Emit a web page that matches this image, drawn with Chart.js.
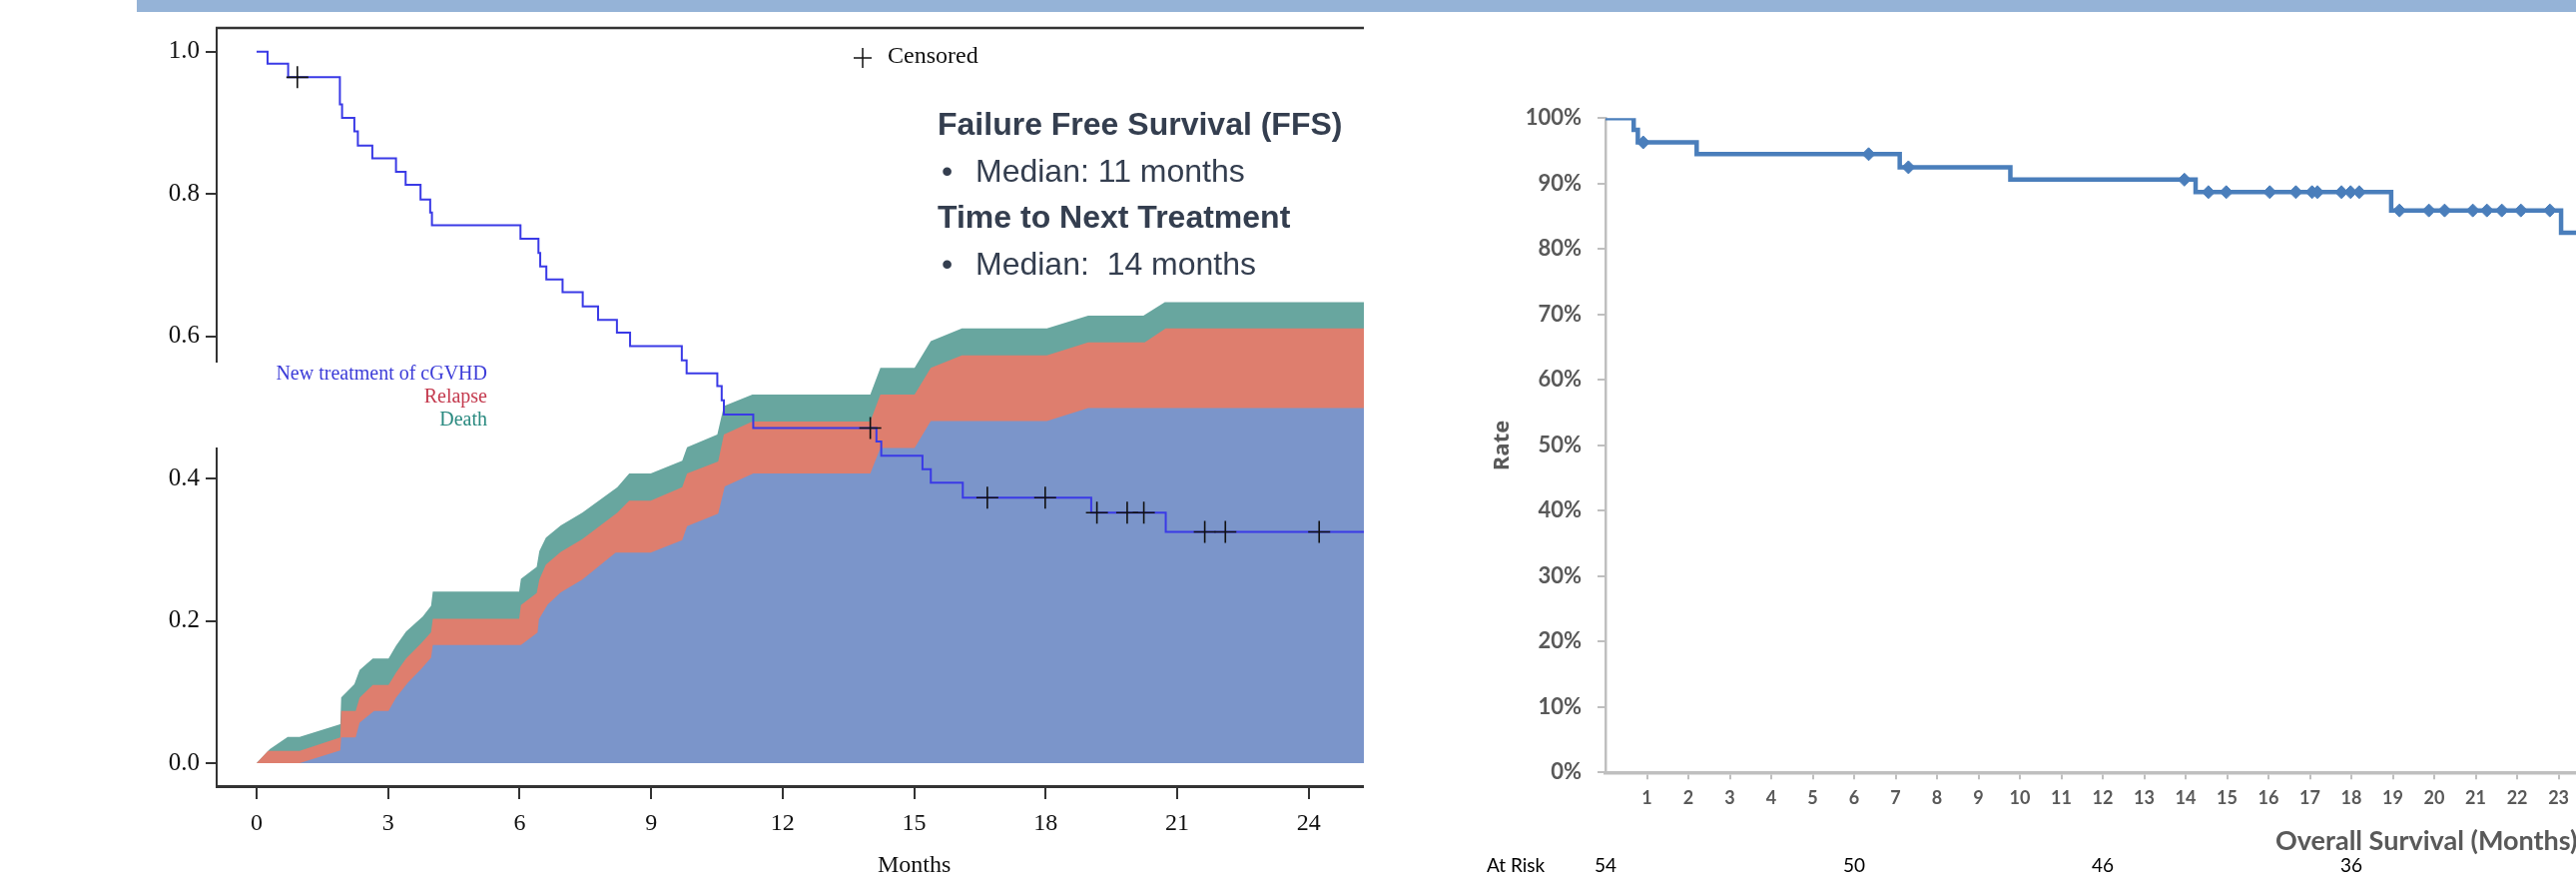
<!DOCTYPE html>
<html>
<head>
<meta charset="utf-8">
<script src="https://cdn.jsdelivr.net/npm/chart.js@4.4.1/dist/chart.umd.min.js"></script>
<style>
  body { margin: 0; background: #fff; width: 2580px; height: 891px; overflow: hidden; position: relative; }
  #banner { position: absolute; left: 137px; top: 0; width: 2443px; height: 12px; background: #95b3d7; z-index: 2; }
  #left { position: absolute; left: 0; top: 0; }
  #right { position: absolute; left: 1400px; top: 0; }
</style>
</head>
<body>
<div id="banner"></div>
<canvas id="left" width="1366" height="891"></canvas>
<canvas id="right" width="1180" height="891"></canvas>
<script>
// ---- left panel: FFS step curve + stacked cumulative incidence ----
const ffsMonths = [0, 0.25, 0.72, 1.9, 1.95, 2.23, 2.31, 2.64, 3.18, 3.4, 3.74, 3.96, 4.0, 6.02, 6.43, 6.47, 6.61, 6.98, 7.44, 7.79, 8.22, 8.52, 9.7, 9.81, 10.51, 10.61, 10.66, 11.33, 14.14, 14.25, 15.19, 15.38, 16.11, 19.04, 20.74, 25.3];
const ffsValues = [1.0, 0.983, 0.964, 0.926, 0.907, 0.888, 0.868, 0.85, 0.831, 0.813, 0.792, 0.774, 0.756, 0.737, 0.717, 0.698, 0.68, 0.662, 0.642, 0.623, 0.605, 0.586, 0.566, 0.548, 0.53, 0.51, 0.49, 0.471, 0.452, 0.432, 0.413, 0.394, 0.373, 0.352, 0.325, 0.325];

const censorMonths = [0.93, 14.0, 16.67, 17.99, 19.17, 19.86, 20.24, 21.63, 22.1, 24.24];
const censorValues = [0.964, 0.471, 0.373, 0.373, 0.352, 0.352, 0.352, 0.325, 0.325, 0.325];

// cumulative tops of the stacked areas
const cgvhdMonths = [0.98, 1.91, 1.93, 2.26, 2.35, 2.68, 3.01, 3.18, 3.45, 3.75, 3.98, 4.02, 6.03, 6.41, 6.44, 6.64, 6.94, 7.43, 8.19, 8.99, 9.71, 9.82, 10.53, 10.68, 11.33, 14.0, 14.23, 15.01, 15.38, 18.03, 18.97, 25.3];
const cgvhdValues = [0, 0.018, 0.036, 0.036, 0.057, 0.0735, 0.0735, 0.092, 0.113, 0.132, 0.148, 0.166, 0.166, 0.1835, 0.202, 0.223, 0.24, 0.258, 0.296, 0.296, 0.3135, 0.333, 0.3505, 0.389, 0.407, 0.407, 0.443, 0.443, 0.481, 0.481, 0.499, 0.499];

const relapseMonths = [0, 0.26, 0.98, 1.91, 1.93, 2.26, 2.35, 2.65, 3.01, 3.18, 3.41, 3.75, 3.98, 4.02, 5.99, 6.03, 6.39, 6.45, 6.6, 6.94, 7.43, 8.23, 8.5, 8.99, 9.71, 9.82, 10.53, 10.66, 11.31, 14.0, 14.23, 15.01, 15.38, 16.09, 18.03, 18.97, 20.26, 20.74, 25.3];
const relapseValues = [0, 0.0173, 0.0173, 0.036, 0.0735, 0.0735, 0.092, 0.11, 0.11, 0.127, 0.147, 0.168, 0.184, 0.203, 0.203, 0.222, 0.239, 0.258, 0.279, 0.297, 0.315, 0.352, 0.369, 0.369, 0.388, 0.407, 0.424, 0.462, 0.48, 0.48, 0.518, 0.518, 0.5555, 0.573, 0.573, 0.5915, 0.5915, 0.611, 0.611];

const deathMonths = [0, 0.3, 0.71, 0.98, 1.91, 1.93, 2.23, 2.35, 2.65, 3.01, 3.18, 3.41, 3.79, 3.98, 4.02, 5.99, 6.03, 6.39, 6.45, 6.6, 6.94, 7.43, 8.23, 8.5, 8.99, 9.71, 9.82, 10.51, 10.66, 11.31, 14.0, 14.23, 15.01, 15.38, 16.09, 18.03, 18.97, 20.23, 20.72, 25.3];
const deathValues = [0, 0.0197, 0.0369, 0.0369, 0.0548, 0.0922, 0.111, 0.131, 0.147, 0.147, 0.165, 0.185, 0.206, 0.221, 0.241, 0.241, 0.259, 0.276, 0.298, 0.317, 0.334, 0.352, 0.388, 0.407, 0.407, 0.425, 0.444, 0.462, 0.502, 0.518, 0.518, 0.5555, 0.5555, 0.593, 0.611, 0.611, 0.629, 0.629, 0.648, 0.648];

const leftXTicks = [0, 3, 6, 9, 12, 15, 18, 21, 24];
const leftYTicks = [0, 0.2, 0.4, 0.6, 0.8, 1.0];
const legendNames = ["New treatment of cGVHD", "Relapse", "Death"];
const legendColors = ["#3c3cd8", "#c43a4e", "#2a8a80"];
const infoLines = [
  { text: "Failure Free Survival (FFS)", bold: true, y: 135 },
  { text: "Median: 11 months", bold: false, y: 182 },
  { text: "Time to Next Treatment", bold: true, y: 228 },
  { text: "Median:  14 months", bold: false, y: 275 }
];

// ---- right panel: overall survival ----
const osMonths = [0, 0.68, 0.78, 2.2, 7.1, 9.77, 14.24, 18.96, 23.06, 23.5];
const osRate = [100, 98.2, 96.3, 94.5, 92.5, 90.6, 88.7, 85.9, 82.5, 82.5];
const osCensorMonths = [0.91, 6.35, 7.31, 13.97, 14.55, 14.98, 16.03, 16.66, 17.05, 17.18, 17.76, 17.98, 18.19, 19.16, 19.87, 20.25, 20.93, 21.27, 21.63, 22.09, 22.79];
const osCensorRate = [96.3, 94.5, 92.5, 90.6, 88.7, 88.7, 88.7, 88.7, 88.7, 88.7, 88.7, 88.7, 88.7, 85.9, 85.9, 85.9, 85.9, 85.9, 85.9, 85.9, 85.9];
const osXTicks = [1, 2, 3, 4, 5, 6, 7, 8, 9, 10, 11, 12, 13, 14, 15, 16, 17, 18, 19, 20, 21, 22, 23];
const osYTicks = [0, 10, 20, 30, 40, 50, 60, 70, 80, 90, 100];
const atRiskMonths = [0, 6, 12, 18];
const atRiskCounts = [54, 50, 46, 36];

function pts(xs, ys) {
  return xs.map((x, i) => ({ x: x, y: ys[i] }));
}

// no extra label padding: plot edges are fixed
function noPad(s) {
  s.paddingLeft = 0; s.paddingRight = 0; s.paddingTop = 0; s.paddingBottom = 0;
}

const leftDecor = {
  id: "leftDecor",
  afterDraw(chart) {
    const ctx = chart.ctx;
    const a = chart.chartArea;
    const xs = chart.scales.x;
    ctx.save();
    // top frame
    ctx.strokeStyle = "#333";
    ctx.lineWidth = 2.5;
    ctx.beginPath();
    ctx.moveTo(a.left - 1, a.top);
    ctx.lineTo(a.right, a.top);
    ctx.stroke();

    // legend box sits over the axis
    ctx.fillStyle = "#fff";
    ctx.fillRect(205, 363, 292, 85);
    ctx.font = "20px 'Liberation Serif'";
    ctx.textAlign = "right";
    ctx.textBaseline = "middle";
    legendNames.forEach((n, i) => {
      ctx.fillStyle = legendColors[i];
      ctx.fillText(n, 488, 375 + i * 23);
    });

    // censored key
    ctx.strokeStyle = "#111";
    ctx.lineWidth = 1.5;
    ctx.beginPath();
    ctx.moveTo(855, 58); ctx.lineTo(873, 58);
    ctx.moveTo(864, 48); ctx.lineTo(864, 68);
    ctx.stroke();
    ctx.fillStyle = "#111";
    ctx.textAlign = "left";
    ctx.font = "24px 'Liberation Serif'";
    ctx.fillText("Censored", 889, 57);

    // x title
    ctx.textAlign = "center";
    ctx.fillText("Months", xs.getPixelForValue(15), 867);

    // text block
    ctx.fillStyle = "#343e4f";
    ctx.textAlign = "left";
    ctx.textBaseline = "alphabetic";
    infoLines.forEach(l => {
      if (l.bold) {
        ctx.font = "bold 32px 'Liberation Sans'";
        ctx.fillText(l.text, 939, l.y);
      } else {
        ctx.font = "32px 'Liberation Sans'";
        ctx.fillText("\u2022", 943, l.y);
        ctx.fillText(l.text, 977, l.y);
      }
    });
    ctx.restore();
  }
};

new Chart(document.getElementById("left"), {
  type: "line",
  data: {
    datasets: [
      { label: "Censored", data: pts(censorMonths, censorValues), showLine: false, pointStyle: "cross", pointRadius: 11, borderColor: "#111", borderWidth: 1.6, order: 0 },
      { label: "FFS", data: pts(ffsMonths, ffsValues), stepped: true, borderColor: "#3a3ae6", borderWidth: 2, pointRadius: 0, fill: false, order: 1 },
      { label: legendNames[0], data: pts(cgvhdMonths, cgvhdValues), borderWidth: 0, pointRadius: 0, backgroundColor: "#7b95ca", fill: "origin", order: 2 },
      { label: legendNames[1], data: pts(relapseMonths, relapseValues), borderWidth: 0, pointRadius: 0, backgroundColor: "#de7e6e", fill: "origin", order: 3 },
      { label: legendNames[2], data: pts(deathMonths, deathValues), borderWidth: 0, pointRadius: 0, backgroundColor: "#68a69f", fill: "origin", order: 4 }
    ]
  },
  options: {
    responsive: false,
    animation: false,
    devicePixelRatio: 1,
    layout: { autoPadding: false, padding: { top: 28, left: 0, right: 0, bottom: 0 } },
    plugins: { legend: { display: false }, tooltip: { enabled: false } },
    scales: {
      x: {
        type: "linear", min: -0.911, max: 25.26,
        afterBuildTicks: s => { s.ticks = leftXTicks.map(v => ({ value: v })); },
        afterFit: s => { s.height = 104; noPad(s); },
        grid: { drawOnChartArea: false, tickLength: 13, color: "#333", lineWidth: 2 },
        border: { color: "#333", width: 3 },
        ticks: { font: { family: "Liberation Serif", size: 24 }, color: "#111", padding: 10, maxRotation: 0, autoSkip: false }
      },
      y: {
        type: "linear", min: -0.0323, max: 1.0333,
        afterBuildTicks: s => { s.ticks = leftYTicks.map(v => ({ value: v })); },
        afterFit: s => { s.width = 217; noPad(s); },
        grid: { drawOnChartArea: false, tickLength: 11, color: "#333", lineWidth: 2 },
        border: { color: "#333", width: 2 },
        ticks: { font: { family: "Liberation Serif", size: 25 }, color: "#111", padding: 6, callback: v => v.toFixed(1) }
      }
    }
  },
  plugins: [leftDecor]
});

const rightDecor = {
  id: "rightDecor",
  afterDraw(chart) {
    const ctx = chart.ctx;
    const xs = chart.scales.x;
    ctx.save();
    ctx.fillStyle = "#595959";
    ctx.font = "bold 27px Lato";
    ctx.textBaseline = "middle";
    ctx.textAlign = "left";
    ctx.fillText("Overall Survival (Months)", 879, 842);

    ctx.save();
    ctx.translate(105, 446);
    ctx.rotate(-Math.PI / 2);
    ctx.textAlign = "center";
    ctx.font = "bold 22px 'Open Sans'";
    ctx.fillText("Rate", 0, 0);
    ctx.restore();

    ctx.fillStyle = "#000";
    ctx.font = "19px Lato";
    ctx.textAlign = "left";
    ctx.fillText("At Risk", 89, 867);
    ctx.textAlign = "center";
    atRiskMonths.forEach((m, i) => {
      ctx.fillText(String(atRiskCounts[i]), xs.getPixelForValue(m), 867);
    });
    ctx.restore();
  }
};

new Chart(document.getElementById("right"), {
  type: "line",
  data: {
    datasets: [
      { label: "Censored", data: pts(osCensorMonths, osCensorRate), showLine: false, pointStyle: "rectRot", pointRadius: 6.5, backgroundColor: "#4a7ebb", borderColor: "#4a7ebb", borderWidth: 1, order: 0 },
      { label: "OS", data: pts(osMonths, osRate), stepped: true, borderColor: "#4a7ebb", borderWidth: 4.5, pointRadius: 0, fill: false, order: 1 }
    ]
  },
  options: {
    responsive: false,
    animation: false,
    devicePixelRatio: 1,
    layout: { autoPadding: false, padding: { top: 118.3, left: 0, right: 0, bottom: 0 } },
    plugins: { legend: { display: false }, tooltip: { enabled: false } },
    scales: {
      x: {
        type: "linear", min: 0, max: 23.42,
        afterBuildTicks: s => { s.ticks = osXTicks.map(v => ({ value: v })); },
        afterFit: s => { s.height = 117.7; noPad(s); },
        grid: { drawOnChartArea: false, tickLength: 7, color: "#bfbfbf", lineWidth: 2 },
        border: { color: "#bfbfbf", width: 3.5 },
        ticks: { font: { family: "Lato", size: 18, weight: "bold" }, color: "#595959", padding: 8, maxRotation: 0, autoSkip: false }
      },
      y: {
        type: "linear", min: 0, max: 100,
        afterBuildTicks: s => { s.ticks = osYTicks.map(v => ({ value: v })); },
        afterFit: s => { s.width = 208; noPad(s); },
        grid: { drawOnChartArea: false, tickLength: 8, color: "#bfbfbf", lineWidth: 2 },
        border: { color: "#bfbfbf", width: 2.5 },
        ticks: { font: { family: "Lato", size: 22, weight: "bold" }, color: "#595959", padding: 16, callback: v => v + "%" }
      }
    }
  },
  plugins: [rightDecor]
});
</script>
</body>
</html>
